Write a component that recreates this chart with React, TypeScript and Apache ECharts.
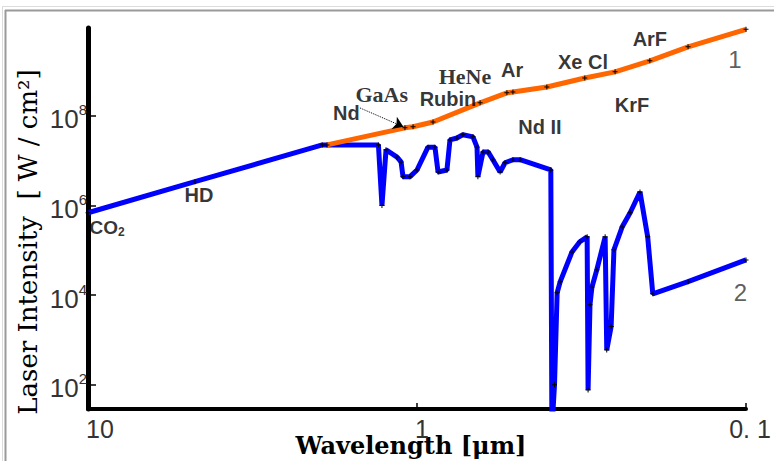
import React, { useEffect, useRef } from 'react';
import * as echarts from 'echarts';

// Curve 2 (blue): wavelength [µm] and laser intensity [W/cm²]
const wavelength2 = [10, 4.73, 1.94, 1.31, 1.278, 1.242, 1.15, 1.118, 1.103, 1.05, 1.0, 0.926, 0.882, 0.863, 0.811, 0.794, 0.756, 0.725, 0.676, 0.657, 0.653, 0.63, 0.608, 0.588, 0.559, 0.54, 0.511, 0.486, 0.392, 0.389, 0.382, 0.375, 0.367, 0.338, 0.32, 0.304, 0.302, 0.298, 0.294, 0.284, 0.268, 0.265, 0.257, 0.252, 0.238, 0.225, 0.21, 0.199, 0.192, 0.15, 0.1];
const intensity2 = [6.9e5, 3.4e6, 2.25e7, 2.25e7, 1.0e6, 1.75e7, 1.2e7, 9.4e6, 4.4e6, 4.4e6, 6.2e6, 2.0e7, 2.0e7, 5.6e6, 6.2e6, 2.9e7, 3.2e7, 3.8e7, 3.4e7, 2.0e7, 4.4e6, 1.57e7, 1.57e7, 1.05e7, 5.6e6, 9.0e6, 1.05e7, 1.05e7, 6.2e6, 10, 100, 1.13e4, 2.0e4, 9.2e4, 1.55e5, 2.0e5, 77, 6.1e3, 1.5e4, 3.7e4, 2.0e5, 6.0e2, 2.0e3, 1.03e5, 3.3e5, 6.9e5, 2.0e6, 2.0e5, 1.07e4, 2.0e4, 6.1e4];

// Curve 1 (orange)
const wavelength1 = [1.877, 1.088, 1.028, 0.894, 0.643, 0.533, 0.511, 0.403, 0.309, 0.25, 0.196, 0.15, 0.1];
const intensity1 = [2.25e7, 5.4e7, 5.7e7, 7.3e7, 1.95e8, 3.26e8, 3.4e8, 4.4e8, 7.0e8, 9.6e8, 1.69e9, 3.46e9, 8.5e9];

// Laser annotations
const annotationNames = ['{b|CO}{sub|2}', 'HD', 'Nd', '{s|GaAs}', 'Rubin', '{s|HeNe}', 'Ar', 'Xe Cl', 'ArF', 'KrF', 'Nd II', '{n|1}', '{n|2}'];
const annotationWavelength = [8.75, 4.6, 1.64, 1.28, 0.805, 0.715, 0.514, 0.313, 0.196, 0.222, 0.423, 0.108, 0.104];
const annotationIntensity = [3.3e5, 1.73e6, 1.17e8, 2.94e8, 2.4e8, 7.4e8, 1.06e9, 1.6e9, 5.2e9, 1.76e8, 5.7e7, 1.77e9, 1.13e4];

// Arrow from "Nd" label to the curve
const arrowWavelength = [1.49, 1.1];
const arrowIntensity = [1.5e8, 5.7e7];

// Ticks (decades)
const xTickWavelengths = [10, 1, 0.1];
const xTickLabels = ['10', '1', '0. 1'];
const yTickExponents = [2, 4, 6, 8];

const lg = (v: number) => Math.log10(v);

const plus = 'path://M4,0H6V4H10V6H6V10H4V6H0V4H4Z';
const tickFont = 'Liberation Sans';

export default function App() {
  const ref = useRef<HTMLDivElement>(null);
  useEffect(() => {
    document.body.style.margin = '0';
    const chart = echarts.init(ref.current!, null, { renderer: 'svg' });
    const xLabelStyle = ['l', 'c', 'r'];
    chart.setOption({
      animation: false,
      backgroundColor: '#ffffff',
      grid: { left: 88, right: 28, top: 28, bottom: 52, containLabel: false, outerBoundsMode: 'none' },
      xAxis: {
        type: 'value',
        min: -1,
        max: 1,
        inverse: true,
        axisLine: { show: true, onZero: false, lineStyle: { color: '#000', width: 4 } },
        axisTick: { show: true, inside: true, length: 6, customValues: [0, -1], lineStyle: { color: '#000', width: 1.5 } },
        splitLine: { show: false },
        axisLabel: {
          customValues: xTickWavelengths.map(lg),
          margin: 7,
          formatter: (v: number) => {
            const i = xTickWavelengths.findIndex((w) => Math.abs(lg(w) - v) < 1e-6);
            return i < 0 ? '' : `{${xLabelStyle[i]}|${xTickLabels[i]}}`;
          },
          rich: {
            l: { fontSize: 25, color: '#333', fontFamily: tickFont, padding: [0, 0, 0, 24] },
            c: { fontSize: 25, color: '#333', fontFamily: tickFont, padding: [0, 0, 0, 10] },
            r: { fontSize: 25, color: '#333', fontFamily: tickFont, padding: [0, 0, 0, 8] },
          },
        },
      },
      yAxis: {
        type: 'value',
        min: 1.46,
        max: 9.96,
        axisLine: { show: true, onZero: false, lineStyle: { color: '#000', width: 5 } },
        axisTick: { show: true, inside: true, length: 8, customValues: yTickExponents, lineStyle: { color: '#000', width: 1.5 } },
        splitLine: { show: false },
        axisLabel: {
          customValues: yTickExponents,
          margin: 1,
          formatter: (v: number) => `{b|10}{s|${Math.round(v)}}`,
          rich: {
            b: { fontSize: 26, color: '#333', fontFamily: tickFont, padding: [7, 0, 0, 0] },
            s: { fontSize: 15, color: '#333', fontFamily: tickFont, verticalAlign: 'top', padding: [3, 0, 0, 0] },
          },
        },
      },
      graphic: [
        { type: 'line', shape: { x1: 2, y1: 6.5, x2: 774, y2: 6.5 }, style: { stroke: '#dcdcdc', lineWidth: 1 } },
        { type: 'line', shape: { x1: 2.5, y1: 6, x2: 2.5, y2: 461 }, style: { stroke: '#dcdcdc', lineWidth: 1 } },
        { type: 'line', shape: { x1: 5, y1: 10.5, x2: 774, y2: 10.5 }, style: { stroke: '#9a9a9a', lineWidth: 2 } },
        { type: 'line', shape: { x1: 5.5, y1: 10, x2: 5.5, y2: 461 }, style: { stroke: '#9a9a9a', lineWidth: 2 } },
        {
          type: 'text',
          x: 28,
          y: 242,
          rotation: Math.PI / 2,
          style: {
            text: 'Laser Intensity  [ W / cm²]',
            font: 'normal 26px "DejaVu Serif"',
            fill: '#000',
            align: 'center',
            verticalAlign: 'middle',
          },
        },
        {
          type: 'text',
          x: 411,
          y: 445,
          style: {
            text: 'Wavelength [μm]',
            font: 'bold 24px "DejaVu Serif"',
            fill: '#000',
            align: 'center',
            verticalAlign: 'middle',
          },
        },
      ],
      series: [
        {
          type: 'line',
          data: wavelength2.map((w, i) => [lg(w), lg(intensity2[i])]),
          lineStyle: { color: '#0000ff', width: 5 },
          itemStyle: { color: '#000' },
          symbol: plus,
          symbolSize: 5,
          showSymbol: true,
          z: 2,
        },
        {
          type: 'line',
          data: wavelength1.map((w, i) => [lg(w), lg(intensity1[i])]),
          lineStyle: { color: '#ff6600', width: 5 },
          itemStyle: { color: '#000' },
          symbol: plus,
          symbolSize: 5,
          showSymbol: true,
          z: 3,
          markLine: {
            silent: true,
            symbol: ['none', 'arrow'],
            symbolSize: 10,
            label: { show: false },
            lineStyle: { color: '#000', type: 'dotted', width: 1 },
            data: [[
              { coord: [lg(arrowWavelength[0]), lg(arrowIntensity[0])] },
              { coord: [lg(arrowWavelength[1]), lg(arrowIntensity[1])] },
            ]],
          },
        },
        {
          type: 'scatter',
          symbolSize: 0,
          z: 5,
          data: annotationNames.map((n, i) => ({
            name: n,
            value: [lg(annotationWavelength[i]), lg(annotationIntensity[i])],
          })),
          label: {
            show: true,
            position: 'inside',
            formatter: (p: any) => p.name,
            fontFamily: 'Liberation Sans',
            fontWeight: 'bold',
            fontSize: 20,
            color: '#000',
            rich: {
              b: { fontFamily: 'Liberation Sans', fontWeight: 'bold', fontSize: 19, color: '#000' },
              sub: { fontFamily: 'Liberation Sans', fontWeight: 'bold', fontSize: 12, color: '#000', verticalAlign: 'bottom', padding: [10, 0, 0, 0] },
              s: { fontFamily: 'Liberation Serif', fontWeight: 'bold', fontSize: 22, color: '#000' },
              n: { fontFamily: tickFont, fontWeight: 'normal', fontSize: 24, color: '#333' },
            },
          },
        },
      ],
    });
    return () => chart.dispose();
  }, []);
  return <div ref={ref} style={{ position: 'absolute', left: 0, top: 0, width: 774, height: 461 }} />;
}
